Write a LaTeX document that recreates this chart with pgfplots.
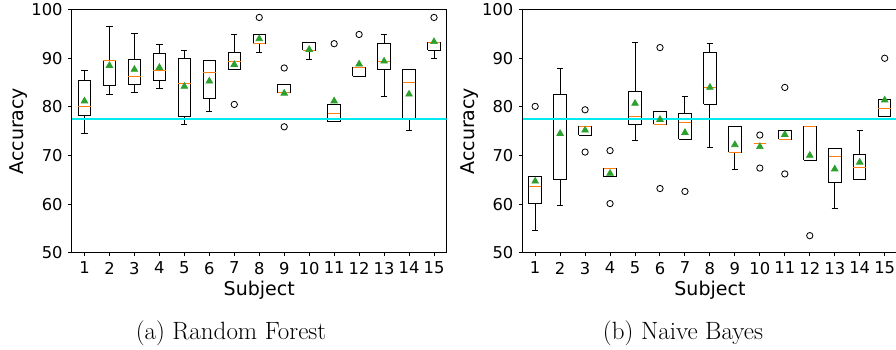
\documentclass[border=0pt]{standalone}
\usepackage{pgfplots}
\pgfplotsset{compat=1.18}
\usepackage{fontspec}
\newfontfamily\dejavu{DejaVu Sans}
\definecolor{mplorange}{HTML}{FF7F0E}
\definecolor{mplgreen}{HTML}{2CA02C}
\definecolor{refcyan}{RGB}{0,235,240}
\pgfplotsset{
  bxl/.style={black, line width=0.6pt, solid, mark=none},
  medl/.style={mplorange, line width=0.6pt, solid, mark=none},
  outl/.style={only marks, mark=o, mark size=1.9pt, black, mark options={line width=0.5pt}},
  meanm/.style={only marks, mark=triangle*, mark size=2.3pt, color=mplgreen, mark options={draw=mplgreen, fill=mplgreen}},
  base/.style={
    scale only axis, width=224.7pt, height=145.8pt,
    xmin=0.5, xmax=15.5, ymin=50, ymax=100,
    xtick={1,...,15}, ytick={50,60,...,100},
    xtick pos=left, ytick pos=left, tick align=outside,
    major tick length=2.1pt,
    every tick/.style={black, line width=0.6pt},
    axis line style={line width=0.6pt},
    /pgf/number format/assume math mode=true,
    ticklabel style={font=\dejavu\fontsize{9.8}{11}\selectfont},
    label style={font=\dejavu\fontsize{11.4}{13}\selectfont},
    xlabel={Subject}, ylabel={Accuracy},
    xlabel style={at={(axis description cs:0.5,0)}, anchor=base, yshift=-25.5pt},
    ylabel style={at={(axis description cs:0,0.5)}, anchor=base, yshift=29.1pt},
    anchor=south west,
  },
}
% box: position, lower whisker, lower quartile, median, upper quartile, upper whisker
\newcommand{\bx}[6]{%
  \pgfmathsetmacro{\bxl}{#1-0.25}\pgfmathsetmacro{\bxr}{#1+0.25}%
  \pgfmathsetmacro{\cpl}{#1-0.125}\pgfmathsetmacro{\cpr}{#1+0.125}%
  \addplot[bxl] coordinates {(#1,#3) (#1,#2)};
  \addplot[bxl] coordinates {(\cpl,#2) (\cpr,#2)};
  \addplot[bxl] coordinates {(#1,#5) (#1,#6)};
  \addplot[bxl] coordinates {(\cpl,#6) (\cpr,#6)};
  \addplot[bxl] coordinates {(\bxl,#3) (\bxr,#3) (\bxr,#5) (\bxl,#5) (\bxl,#3)};
  \addplot[medl] coordinates {(\bxl,#4) (\bxr,#4)};
}
\begin{document}
\begin{tikzpicture}
\useasboundingbox (0,0) rectangle (537.6pt,209.4pt);
% ---------------- Random Forest ----------------
\begin{axis}[base, at={(43.2pt,57.8pt)}]
\bx{1}{74.6}{78.3}{80.1}{85.5}{87.4}
\bx{2}{82.5}{84.3}{89.6}{89.6}{96.6}
\bx{3}{82.9}{84.6}{86.3}{89.8}{95.0}
\bx{4}{83.7}{85.5}{87.4}{91.0}{92.9}
\bx{5}{76.4}{78.1}{84.8}{89.9}{91.6}
\bx{6}{79.1}{81.7}{87.0}{89.6}{89.6}
\bx{7}{87.6}{87.6}{89.4}{91.2}{94.8}
\bx{8}{91.2}{93.0}{93.0}{94.8}{94.8}
\bx{9}{82.9}{82.9}{82.9}{84.6}{84.6}
\bx{10}{89.8}{91.6}{91.6}{93.2}{93.2}
\bx{11}{76.9}{76.9}{78.6}{80.5}{80.5}
\bx{12}{86.3}{86.3}{88.1}{88.1}{88.1}
\bx{13}{82.2}{87.6}{89.4}{93.0}{94.8}
\bx{14}{75.1}{77.6}{85.1}{87.6}{87.6}
\bx{15}{89.9}{91.6}{93.3}{93.3}{93.3}
\addplot[outl] coordinates {(7,80.5) (8,98.4) (9,88.0) (9,75.9) (11,93.0) (12,94.9) (15,98.4)};
\addplot[meanm] coordinates {(1,81.2) (2,88.5) (3,87.7) (4,88.1) (5,84.2) (6,85.3) (7,88.7) (8,94.0) (9,82.8) (10,91.8) (11,81.2) (12,88.8) (13,89.4) (14,82.6) (15,93.4)};
\addplot[refcyan, line width=0.9pt] coordinates {(0.5,77.5) (15.5,77.5)};
\end{axis}
% ---------------- Naive Bayes ----------------
\begin{axis}[base, at={(313.6pt,57.8pt)}]
\bx{1}{54.6}{60.1}{63.7}{65.6}{65.6}
\bx{2}{59.7}{65.0}{77.4}{82.6}{87.9}
\bx{3}{74.2}{74.2}{75.9}{75.9}{75.9}
\bx{4}{65.6}{65.6}{67.4}{67.4}{67.4}
\bx{5}{73.0}{76.3}{78.0}{83.2}{93.3}
\bx{6}{76.4}{76.4}{76.4}{79.0}{79.0}
\bx{7}{73.3}{73.3}{76.8}{78.6}{82.2}
\bx{8}{71.6}{80.5}{84.0}{91.2}{93.0}
\bx{9}{67.2}{70.7}{70.7}{75.9}{75.9}
\bx{10}{72.4}{72.4}{72.4}{72.4}{72.4}
\bx{11}{73.3}{73.3}{73.3}{75.1}{75.1}
\bx{12}{69.0}{69.0}{75.9}{75.9}{75.9}
\bx{13}{59.0}{64.4}{69.8}{71.5}{71.5}
\bx{14}{65.0}{65.0}{67.6}{70.1}{75.1}
\bx{15}{78.1}{78.1}{79.7}{81.6}{81.6}
\addplot[outl] coordinates {(1,80.1) (3,79.4) (3,70.7) (4,71.0) (4,60.1) (6,92.2) (6,63.2) (7,62.6) (10,74.2) (10,67.4) (11,84.0) (11,66.2) (12,53.5) (15,90.0)};
\addplot[meanm] coordinates {(1,64.7) (2,74.5) (3,75.2) (4,66.3) (5,80.7) (6,77.4) (7,74.7) (8,84.0) (9,72.2) (10,71.8) (11,74.3) (12,70.0) (13,67.2) (14,68.6) (15,81.4)};
\addplot[refcyan, line width=0.9pt] coordinates {(0.5,77.5) (15.5,77.5)};
\end{axis}
\node[anchor=base, font=\fontsize{15}{17}\selectfont] at (138.6pt,6pt) {(a) Random Forest};
\node[anchor=base, font=\fontsize{15}{17}\selectfont] at (409.8pt,6pt) {(b) Naive Bayes};
\end{tikzpicture}
\end{document}
